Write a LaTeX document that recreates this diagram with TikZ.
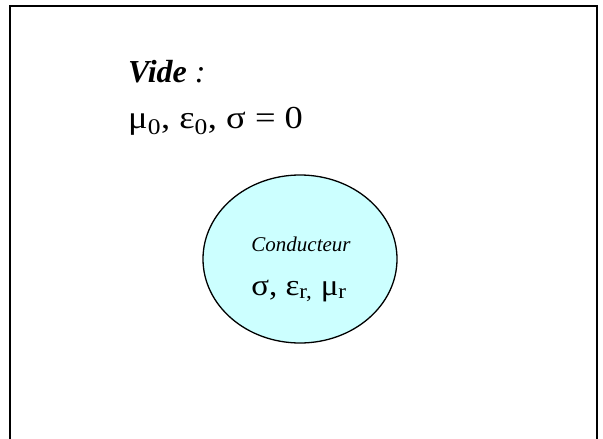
\documentclass[tikz,border=0pt]{standalone}
\usepackage{fontspec}
\setmainfont{Liberation Serif}
\usepackage{tikz}
\usetikzlibrary{shapes.geometric}
\definecolor{condfill}{HTML}{CCFFFF}
\newcommand{\idx}[1]{\textsubscript{#1}}
\newcommand{\wide}[2]{\scalebox{#1}[1]{#2}}
\tikzset{
  frameline/.style = {line width=1.8pt,black},
  condshape/.style = {ellipse,draw=black,line width=1.3pt,fill=condfill,
                      minimum width=194pt,minimum height=168pt,inner sep=0pt},
  bigtext/.style   = {inner sep=0pt,font=\fontsize{32}{38}\selectfont},
  midtext/.style   = {inner sep=0pt,font=\fontsize{30}{36}\selectfont},
  smalltext/.style = {inner sep=0pt,font=\fontsize{21}{25}\selectfont\itshape}
}

\begin{document}
\begin{tikzpicture}[x=1pt,y=-1pt]
  \useasboundingbox (0,0) rectangle (603,439);
  \draw[frameline] (10,440) -- (10,6) -- (597,6) -- (597,440);
  \node[bigtext,anchor=base west] (vide)  at (128,82)  {\textbf{\textit{Vide}}\textit{ :}};
  \node[bigtext,anchor=base west] (vprop) at (128,128) {\wide{1.14}{μ\idx{0}, ε\idx{0}, σ = 0}};
  \node[condshape] (cond) at (300,259) {};
  \node[smalltext,anchor=base] (cname)  at (301,251) {Conducteur};
  \node[midtext,anchor=base]   (cprop)  at (299,295) {\wide{1.1}{σ, ε\idx{r,} μ\idx{r}}};
\end{tikzpicture}
\end{document}
